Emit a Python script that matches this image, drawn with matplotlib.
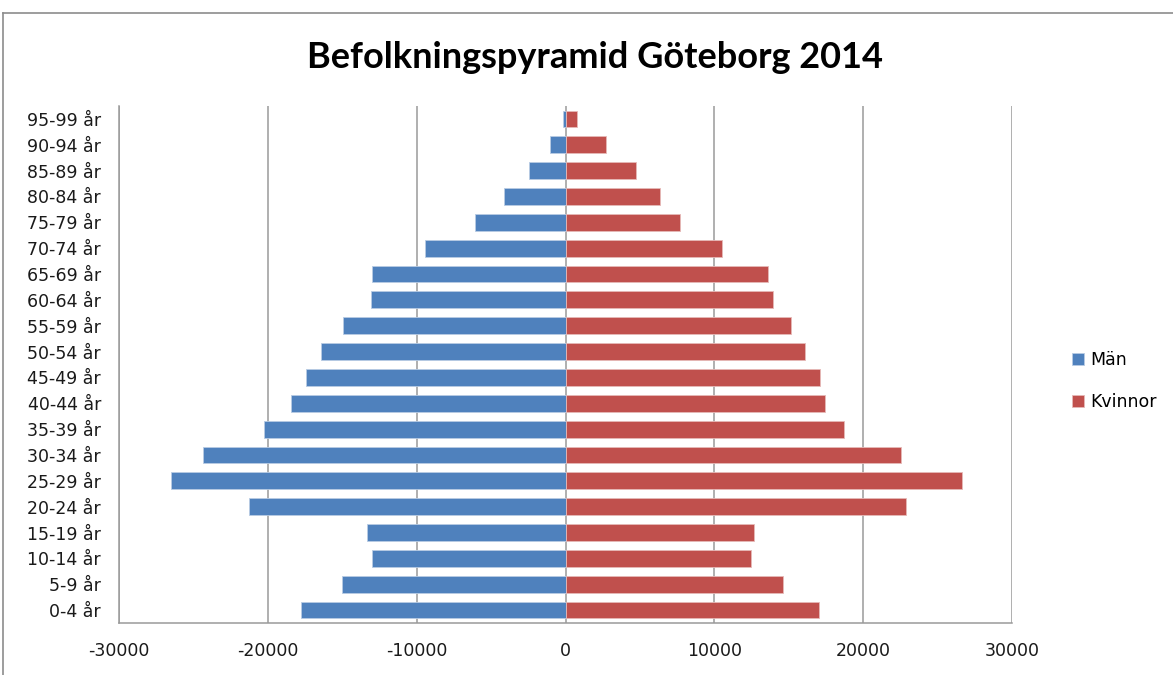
import matplotlib
matplotlib.use("Agg")
import matplotlib.pyplot as plt
from matplotlib.lines import Line2D
import numpy as np

age_groups = ["0-4 år", "5-9 år", "10-14 år", "15-19 år", "20-24 år", "25-29 år",
              "30-34 år", "35-39 år", "40-44 år", "45-49 år", "50-54 år", "55-59 år",
              "60-64 år", "65-69 år", "70-74 år", "75-79 år", "80-84 år", "85-89 år",
              "90-94 år", "95-99 år"]
man = [17780, 15040, 13000, 13330, 21280, 26500, 24350, 20270, 18450, 17410,
       16400, 14920, 13100, 13000, 9470, 6060, 4130, 2420, 1050, 150]
kvinnor = [17000, 14610, 12460, 12660, 22900, 26650, 22560, 18700, 17440, 17100,
           16090, 15180, 13940, 13600, 10500, 7680, 6330, 4710, 2690, 740]
x_ticks = [-30000, -20000, -10000, 0, 10000, 20000, 30000]
x_ticklabels = ["-30000", "-20000", "-10000", "0", "10000", "20000", "30000"]

W, H = 1173, 675
fig = plt.figure(figsize=(W / 100, H / 100), dpi=100)
fig.patch.set_facecolor("white")

ax = fig.add_axes([119 / W, 1 - 623 / H, (1012 - 119) / W, (623 - 106) / H])
y = np.arange(len(age_groups))
blue = "#4F81BD"
red = "#C0504D"
ax.barh(y, -np.array(man), height=0.65, color=blue, edgecolor="#B8CCE4",
        linewidth=0.6, label="Män", zorder=3)
ax.barh(y, kvinnor, height=0.65, color=red, edgecolor="#E6B9B8",
        linewidth=0.6, label="Kvinnor", zorder=3)

ax.set_xlim(-30000, 30000)
ax.set_ylim(-0.5, len(age_groups) - 0.5)
ax.set_xticks(x_ticks)
ax.set_xticklabels(x_ticklabels)
ax.set_yticks(y)
ax.set_yticklabels(age_groups)
ax.tick_params(axis="both", length=0, labelsize=12.5, colors="#1a1a1a")
ax.tick_params(axis="y", pad=13)
ax.tick_params(axis="x", pad=14)
ax.grid(axis="x", color="#9a9a9a", linewidth=1.1, zorder=0)
for s in ["top", "right"]:
    ax.spines[s].set_visible(False)
for s in ["left", "bottom"]:
    ax.spines[s].set_color("#9a9a9a")
    ax.spines[s].set_linewidth(1.1)

fig.text(595 / W, 1 - 58 / H, "Befolkningspyramid Göteborg 2014",
         ha="center", va="center", fontsize=26, fontweight="bold",
         family="Lato", color="black")

fig.legend(loc="center left", bbox_to_anchor=(1056 / W, 1 - 381 / H),
           frameon=False, fontsize=12.5, handlelength=0.7, handleheight=0.7,
           handletextpad=0.4, labelspacing=1.35)

# outer chart border (top and left)
fig.add_artist(Line2D([3 / W, 3 / W], [0, 1 - 13 / H], transform=fig.transFigure,
                      color="#8c8c8c", linewidth=1.2))
fig.add_artist(Line2D([3 / W, 1], [1 - 13 / H, 1 - 13 / H], transform=fig.transFigure,
                      color="#8c8c8c", linewidth=1.2))

fig.savefig("out.png", dpi=100)
